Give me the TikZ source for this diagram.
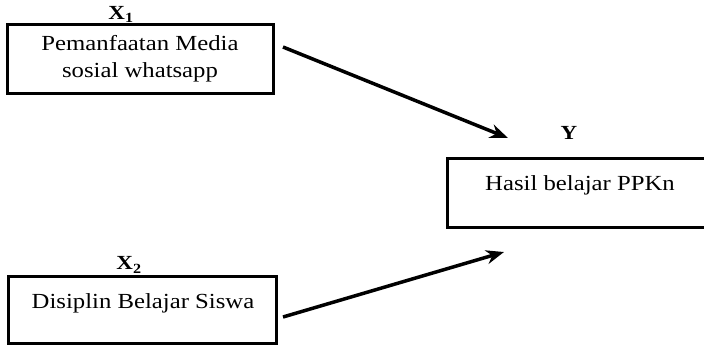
\documentclass[tikz,border=0pt]{standalone}
\usepackage{fontspec}
\setmainfont[FakeStretch=1.15]{Liberation Serif}
\usetikzlibrary{arrows.meta}
\begin{document}
\begin{tikzpicture}[x=1pt,y=-1pt,
  box/.style={draw, line width=3pt, inner sep=0pt},
  boxtext/.style={font=\fontsize{21.5}{27}\selectfont, align=center, inner sep=0pt},
  varlabel/.style={font=\fontsize{20}{20}\selectfont\bfseries, inner sep=0pt},
  link/.style={line width=3.5pt, -{Stealth[length=18pt,width=14pt]}}]
\useasboundingbox (0,0) rectangle (704,346);
% boxes
\node[box, minimum width=266pt, minimum height=69pt] (x1) at (140,58.5) {};
\node[box, minimum width=268pt, minimum height=67pt] (x2) at (142,309.5) {};
\node[box, minimum width=259pt, minimum height=69pt] (y) at (576.5,192.5) {};
% texts
\node[boxtext] (t1) at (140,58.5) {Pemanfaatan Media\\sosial whatsapp};
\node[boxtext] (t2) at (143,303) {Disiplin Belajar Siswa};
\node[boxtext] (t3) at (580,185) {Hasil belajar PPKn};
% variable labels
\node[varlabel] (l1) at (121,14.5) {X\textsubscript{1}};
\node[varlabel] (l2) at (129,265) {X\textsubscript{2}};
\node[varlabel] (l3) at (569,132.5) {Y};
% arrows
\coordinate (a1s) at (283,47);
\coordinate (a1e) at (508,138);
\coordinate (a2s) at (283,317);
\coordinate (a2e) at (504,252);
\draw[link] (a1s) -- (a1e);
\draw[link] (a2s) -- (a2e);
\end{tikzpicture}
\end{document}
